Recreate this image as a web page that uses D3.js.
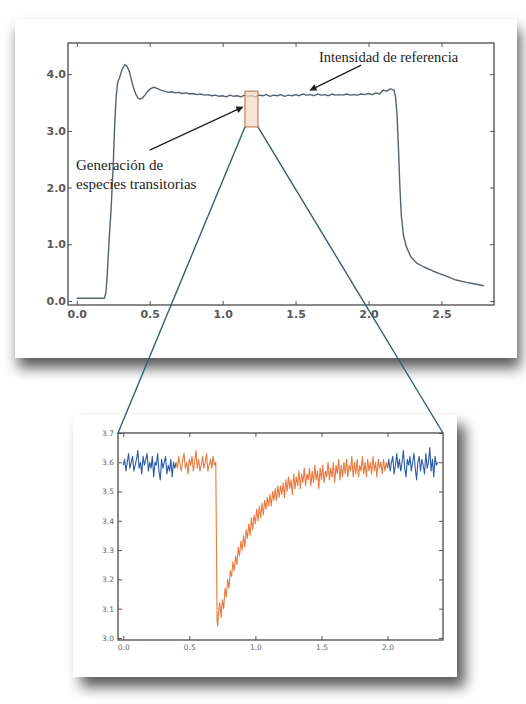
<!DOCTYPE html>
<html><head><meta charset="utf-8">
<script src="https://cdn.jsdelivr.net/npm/d3@7"></script>
<style>
html,body{margin:0;padding:0;background:#fff;}
svg{display:block;}
</style></head>
<body>
<script>
// ---------- DATA ----------
// Top panel: full intensity trace
const mainTime = [0.000,0.100,0.190,0.200,0.210,0.220,0.235,0.250,0.260,0.270,0.280,0.295,0.310,0.330,0.345,0.360,0.375,0.390,0.405,0.420,0.435,0.450,0.470,0.490,0.510,0.530,0.550,0.575,
0.600,0.625,0.650,0.675,0.700,0.725,0.750,0.775,0.800,0.825,0.850,0.875,0.900,0.925,0.950,0.975,1.000,1.025,1.050,1.075,1.100,1.125,1.150,1.175,1.200,1.225,1.250,1.275,1.300,1.325,1.350,1.375,1.400,1.425,1.450,1.475,1.500,1.525,1.550,1.575,1.600,1.625,1.650,1.675,1.700,1.725,1.750,1.775,1.800,1.825,1.850,1.875,1.900,1.925,1.950,1.975,2.000,2.025,2.050,2.075,2.100,2.125,2.150,2.175,
2.185,2.195,2.205,2.215,2.225,2.240,2.260,2.290,2.330,2.380,2.440,2.500,2.550,2.600,2.670,2.730,2.790];
const mainIntensity = [0.05,0.05,0.05,0.15,0.50,1.00,1.60,2.40,3.10,3.60,3.85,3.95,4.08,4.17,4.14,4.05,3.90,3.75,3.65,3.58,3.56,3.58,3.64,3.71,3.75,3.77,3.75,3.72,
3.70,3.68,3.69,3.67,3.68,3.66,3.67,3.65,3.66,3.64,3.65,3.63,3.64,3.62,3.63,3.61,3.62,3.60,3.63,3.61,3.62,3.60,3.63,3.61,3.62,3.60,3.63,3.62,3.64,3.61,3.63,3.62,3.64,3.61,3.63,3.62,3.64,3.62,3.65,3.63,3.64,3.62,3.65,3.63,3.64,3.62,3.65,3.63,3.64,3.63,3.65,3.63,3.64,3.63,3.65,3.64,3.66,3.64,3.67,3.65,3.72,3.70,3.74,3.72,
3.60,3.30,2.70,2.00,1.50,1.15,0.95,0.78,0.67,0.60,0.53,0.47,0.42,0.37,0.33,0.30,0.27];
const mainXTicks = [0.0,0.5,1.0,1.5,2.0,2.5];
const mainXTickLabels = ["0.0","0.5","1.0","1.5","2.0","2.5"];
const mainYTicks = [0,1,2,3,4];
const mainYTickLabels = ["0.0","1.0","2.0","3.0","4.0"];
const zoomWindow = {x0:1.153, x1:1.242, y0:3.07, y1:3.70};
const annotTexts = ["Intensidad de referencia","Generación de","especies transitorias"];

// Bottom panel: zoomed window (three segments)
const blueStartTime = [0.00,0.01,0.02,0.03,0.04,0.05,0.06,0.07,0.08,0.09,0.10,0.11,0.12,0.13,0.14,0.15,0.16,0.17,0.18,0.19,0.20,0.21,0.22,0.23,0.24,0.25,0.26,0.27,0.28,0.29,0.30,0.31,0.32,0.33,0.34,0.35,0.36,0.37,0.38,0.39,0.40];
const blueStartValue = [3.59,3.61,3.57,3.60,3.63,3.58,3.60,3.62,3.57,3.59,
3.61,3.64,3.58,3.60,3.56,3.62,3.59,3.61,3.63,3.57,
3.60,3.58,3.62,3.55,3.60,3.59,3.63,3.57,3.54,3.61,
3.58,3.60,3.62,3.56,3.59,3.57,3.61,3.55,3.60,3.58,3.60];
const orangeTime = [0.40,0.41,0.42,0.43,0.44,0.45,0.46,0.47,0.48,0.49,0.50,0.51,0.52,0.53,0.54,0.55,0.56,0.57,0.58,0.59,0.60,0.61,0.62,0.63,0.64,0.65,0.66,0.67,0.68,0.69,0.70,
0.71,0.715,0.72,0.73,
0.74,0.75,0.76,0.77,0.78,0.79,0.80,0.81,0.82,0.83,0.84,0.85,0.86,0.87,0.88,0.89,0.90,0.91,0.92,0.93,0.94,0.95,0.96,0.97,0.98,0.99,
1.00,1.01,1.02,1.03,1.04,1.05,1.06,1.07,1.08,1.09,1.10,1.11,1.12,1.13,1.14,1.15,1.16,1.17,1.18,1.19,1.20,1.21,1.22,1.23,1.24,1.25,1.26,1.27,1.28,1.29,
1.30,1.31,1.32,1.33,1.34,1.35,1.36,1.37,1.38,1.39,1.40,1.41,1.42,1.43,1.44,1.45,1.46,1.47,1.48,1.49,1.50,1.51,1.52,1.53,1.54,1.55,1.56,1.57,1.58,1.59,
1.60,1.61,1.62,1.63,1.64,1.65,1.66,1.67,1.68,1.69,1.70,1.71,1.72,1.73,1.74,1.75,1.76,1.77,1.78,1.79,1.80,1.81,1.82,1.83,1.84,1.85,1.86,1.87,1.88,1.89,
1.90,1.91,1.92,1.93,1.94,1.95,1.96,1.97,1.98,1.99,2.00];
const orangeValue = [3.60,3.58,3.62,3.59,3.57,3.61,3.63,3.58,3.60,3.56,
3.61,3.59,3.62,3.57,3.60,3.64,3.58,3.61,3.57,3.59,
3.62,3.58,3.60,3.63,3.57,3.59,3.61,3.58,3.62,3.59,3.60,
3.06,3.04,3.08,3.12,
3.07,3.13,3.10,3.17,3.14,3.20,3.17,3.23,3.21,3.26,3.23,3.28,3.25,3.31,3.28,3.33,3.30,3.35,3.31,3.37,3.34,3.39,3.35,3.41,3.37,3.42,
3.39,3.44,3.40,3.45,3.41,3.46,3.42,3.47,3.44,3.48,3.45,3.49,3.45,3.50,3.47,3.51,3.47,3.52,3.48,3.52,3.49,3.53,3.48,3.54,3.50,3.55,3.51,3.54,3.49,3.56,
3.51,3.55,3.52,3.57,3.51,3.56,3.53,3.58,3.52,3.56,3.54,3.58,3.52,3.57,3.53,3.59,3.54,3.57,3.51,3.58,3.54,3.59,3.53,3.57,3.55,3.60,3.54,3.58,3.55,3.60,
3.53,3.59,3.56,3.61,3.54,3.59,3.55,3.60,3.56,3.61,3.55,3.59,3.57,3.62,3.55,3.60,3.56,3.61,3.55,3.59,3.57,3.62,3.56,3.60,3.55,3.61,3.57,3.60,3.56,3.62,
3.57,3.60,3.55,3.61,3.58,3.60,3.56,3.61,3.57,3.60,3.58];
const blueEndTime = [2.00,2.01,2.02,2.03,2.04,2.05,2.06,2.07,2.08,2.09,2.10,2.11,2.12,2.13,2.14,2.15,2.16,2.17,2.18,2.19,2.20,2.21,2.22,2.23,2.24,2.25,2.26,2.27,2.28,2.29,2.30,2.31,2.32,2.33,2.34,2.35,2.36,2.37,2.38];
const blueEndValue = [3.58,3.61,3.57,3.60,3.62,3.56,3.59,3.63,3.58,3.61,
3.57,3.60,3.64,3.58,3.55,3.61,3.59,3.62,3.57,3.60,
3.63,3.58,3.54,3.60,3.62,3.57,3.61,3.59,3.56,3.63,
3.58,3.60,3.65,3.57,3.61,3.55,3.62,3.59,3.60];
const zoomXTicks = [0.0,0.5,1.0,1.5,2.0];
const zoomXTickLabels = ["0.0","0.5","1.0","1.5","2.0"];
const zoomYTicks = [3.0,3.1,3.2,3.3,3.4,3.5,3.6,3.7];
const zoomYTickLabels = ["3.0","3.1","3.2","3.3","3.4","3.5","3.6","3.7"];

// ---------- DRAW ----------
const W = 526, H = 704;
const svg = d3.select("body").append("svg").attr("width", W).attr("height", H);
const defs = svg.append("defs");

function shadow(id, dx, dy, sd, op){
  const f = defs.append("filter").attr("id", id)
    .attr("x", "-20%").attr("y", "-20%").attr("width", "150%").attr("height", "160%");
  f.append("feDropShadow").attr("dx", dx).attr("dy", dy).attr("stdDeviation", sd)
    .attr("flood-color", "#000").attr("flood-opacity", op);
}
shadow("sh1", 3, 10, 7, 0.65);
shadow("sh2", 8, 10, 7, 0.65);

defs.append("marker").attr("id","arrow").attr("viewBox","0 0 10 10")
  .attr("refX", 9).attr("refY", 5).attr("markerWidth", 9).attr("markerHeight", 7)
  .attr("markerUnits","userSpaceOnUse").attr("orient","auto")
  .append("path").attr("d","M0,0 L10,5 L0,10 z").attr("fill","#222");

svg.append("rect").attr("width", W).attr("height", H).attr("fill", "#fff");

// cards
svg.append("rect").attr("x", 15).attr("y", 19).attr("width", 502).attr("height", 339)
  .attr("fill", "#fff").attr("filter", "url(#sh1)");
svg.append("rect").attr("x", 73).attr("y", 415).attr("width", 384).attr("height", 262)
  .attr("fill", "#fff").attr("filter", "url(#sh2)");

// ---- top chart ----
const x1 = d3.scaleLinear().domain([-0.06, 2.86]).range([68, 494]);
const y1 = d3.scaleLinear().domain([-0.07, 4.55]).range([305, 43]);
const g1 = svg.append("g");

function ticksAll(g, x, y, xt, xl, yt, yl, fs, padX, padY, color, weight){
  const [xa, xb] = x.range(), [ya, yb] = y.range();
  g.append("g").attr("transform", `translate(0,${ya})`)
    .call(d3.axisBottom(x).tickValues(xt).tickFormat((d,i)=>xl[i]).tickSize(-4).tickPadding(padX))
    .call(s => { s.select(".domain").remove(); });
  g.append("g").attr("transform", `translate(0,${yb})`)
    .call(d3.axisTop(x).tickValues(xt).tickFormat("").tickSize(-4))
    .call(s => s.select(".domain").remove());
  g.append("g").attr("transform", `translate(${xa},0)`)
    .call(d3.axisLeft(y).tickValues(yt).tickFormat((d,i)=>yl[i]).tickSize(-4).tickPadding(padY))
    .call(s => s.select(".domain").remove());
  g.append("g").attr("transform", `translate(${xb},0)`)
    .call(d3.axisRight(y).tickValues(yt).tickFormat("").tickSize(-4))
    .call(s => s.select(".domain").remove());
  g.selectAll(".tick line").attr("stroke", "#555");
  g.selectAll(".tick text").attr("fill", color).attr("font-size", fs).attr("font-weight", weight)
    .attr("font-family", "DejaVu Sans, sans-serif");
  g.append("rect").attr("x", xa).attr("y", yb).attr("width", xb - xa).attr("height", ya - yb)
    .attr("fill", "none").attr("stroke", "#4a4a4a").attr("stroke-width", 1.3);
}

g1.append("path")
  .datum(mainTime.map((t,i)=>[t, mainIntensity[i]]))
  .attr("fill","none").attr("stroke","#56636f").attr("stroke-width",1.4)
  .attr("stroke-linejoin","round")
  .attr("d", d3.line().x(d=>x1(d[0])).y(d=>y1(d[1])));

ticksAll(g1, x1, y1, mainXTicks, mainXTickLabels, mainYTicks, mainYTickLabels, 11, 5, 2, "#5a5a5a", "bold");

// zoom window rect
g1.append("rect")
  .attr("x", x1(zoomWindow.x0)).attr("y", y1(zoomWindow.y1))
  .attr("width", x1(zoomWindow.x1) - x1(zoomWindow.x0))
  .attr("height", y1(zoomWindow.y0) - y1(zoomWindow.y1))
  .attr("fill", "#f6d9c6").attr("fill-opacity", 0.75)
  .attr("stroke", "#c0805a").attr("stroke-width", 1.2);

// annotations (in data units)
const serif = "Liberation Serif, Times New Roman, serif";
g1.append("text").attr("x", x1(1.66)).attr("y", y1(4.22)).text(annotTexts[0])
  .attr("font-family", serif).attr("font-size", 14.5).attr("fill", "#222");
g1.append("text").attr("x", x1(-0.005)).attr("y", y1(2.31)).text(annotTexts[1])
  .attr("font-family", serif).attr("font-size", 15).attr("fill", "#222");
g1.append("text").attr("x", x1(-0.005)).attr("y", y1(1.98)).text(annotTexts[2])
  .attr("font-family", serif).attr("font-size", 15).attr("fill", "#222");
g1.append("line").attr("x1", x1(1.95)).attr("y1", y1(4.16)).attr("x2", x1(1.60)).attr("y2", y1(3.72))
  .attr("stroke","#222").attr("stroke-width",1.3).attr("marker-end","url(#arrow)");
g1.append("line").attr("x1", x1(0.50)).attr("y1", y1(2.66)).attr("x2", x1(1.137)).attr("y2", y1(3.42))
  .attr("stroke","#222").attr("stroke-width",1.3).attr("marker-end","url(#arrow)");

// ---- bottom chart ----
const x2 = d3.scaleLinear().domain([-0.04, 2.42]).range([118, 443]);
const y2 = d3.scaleLinear().domain([2.993, 3.70]).range([640, 433]);
const g2 = svg.append("g");
const line2 = d3.line().x(d=>x2(d[0])).y(d=>y2(d[1]));
function seg(tArr, vArr, color){
  g2.append("path").datum(tArr.map((t,i)=>[t, vArr[i]]))
    .attr("fill","none").attr("stroke",color).attr("stroke-width",1.1)
    .attr("stroke-linejoin","round").attr("d", line2);
}
seg(blueStartTime, blueStartValue, "#2c5ca8");
seg(orangeTime, orangeValue, "#e97a40");
seg(blueEndTime, blueEndValue, "#2c5ca8");
ticksAll(g2, x2, y2, zoomXTicks, zoomXTickLabels, zoomYTicks, zoomYTickLabels, 7.5, 5, 4, "#666", "normal");

// connector lines from zoom window to lower frame corners
const conn = svg.append("g").attr("stroke", "#35606f").attr("stroke-width", 1.4);
conn.append("line").attr("x1", x1(zoomWindow.x0)).attr("y1", y1(zoomWindow.y0))
  .attr("x2", x2.range()[0]).attr("y2", y2.range()[1]);
conn.append("line").attr("x1", x1(zoomWindow.x1)).attr("y1", y1(zoomWindow.y0))
  .attr("x2", x2.range()[1]).attr("y2", y2.range()[1]);
</script>
</body></html>
